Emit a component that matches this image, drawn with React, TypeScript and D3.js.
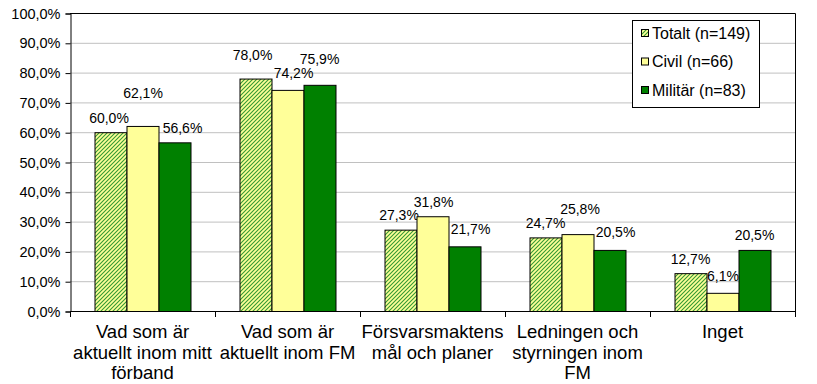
import { useEffect, useRef } from "react";
import * as d3 from "d3";

const categories = [
  ["Vad som är", "aktuellt inom mitt", "förband"],
  ["Vad som är", "aktuellt inom FM"],
  ["Försvarsmaktens", "mål och planer"],
  ["Ledningen och", "styrningen inom", "FM"],
  ["Inget"],
];
const seriesNames = ["Totalt (n=149)", "Civil (n=66)", "Militär (n=83)"];
const totalt = [60.0, 78.0, 27.3, 24.7, 12.7];
const civil = [62.1, 74.2, 31.8, 25.8, 6.1];
const militar = [56.6, 75.9, 21.7, 20.5, 20.5];
const yTicks = [0, 10, 20, 30, 40, 50, 60, 70, 80, 90, 100];

// label nudges (Excel moved some labels around), per series then category
const labelDx = [
  [-1.5, -3, -1.5, 0, 0],
  [0.5, 6, 1, 2.5, 0.5],
  [8, 0, 6, 6, 0],
];
const labelDy = [
  [0, -9, 0, 0, 0],
  [-18, -2, 0, -11, -2],
  [0, -11, -3, -3, 0],
];

const FONT = "Liberation Sans, Arial, sans-serif";

export default function App() {
  const ref = useRef<SVGSVGElement>(null);

  useEffect(() => {
    const svg = d3.select(ref.current);
    svg.selectAll("*").remove();

    const left = 70, right = 795, top = 13, bottom = 311;
    const values = [totalt, civil, militar];
    const fills = ["url(#hatch)", "#FFFF99", "#008000"];

    const x = d3.scaleBand().domain(d3.range(categories.length).map(String)).range([left, right]);
    const xs = d3.scaleBand().domain(["0", "1", "2"]).range([24.5, 120.5]);
    const y = d3.scaleLinear().domain([0, 100]).range([bottom, top]);

    const defs = svg.append("defs");
    const pat = defs.append("pattern")
      .attr("id", "hatch")
      .attr("patternUnits", "userSpaceOnUse")
      .attr("width", 4).attr("height", 4);
    pat.append("rect").attr("width", 4).attr("height", 4).attr("fill", "#FFFF99");
    pat.append("path").attr("d", "M-1,1 l2,-2 M0,4 l4,-4 M3,5 l2,-2")
      .attr("stroke", "#339933").attr("stroke-width", 1.1);

    // gridlines
    svg.append("g").selectAll("line").data(yTicks.slice(1, -1)).join("line")
      .attr("x1", left).attr("x2", right)
      .attr("y1", d => y(d) + 0.5).attr("y2", d => y(d) + 0.5)
      .attr("stroke", "#c0c0c0");

    // plot border (top/right)
    svg.append("path")
      .attr("d", `M${left},${top + 0.5}H${right + 0.5}V${bottom}`)
      .attr("fill", "none").attr("stroke", "#000");

    // y axis
    const yAxis = svg.append("g")
      .attr("transform", `translate(${left + 0.5},0.5)`)
      .call(d3.axisLeft(y).tickValues(yTicks).tickSize(5).tickPadding(5)
        .tickFormat(d => d3.format(".1f")(d as number).replace(".", ",") + "%"));
    yAxis.select(".domain").attr("stroke", "#000");
    yAxis.selectAll("text").attr("font-family", FONT)
      .attr("font-size", 14.5).attr("fill", "#000");

    // bars
    values.forEach((vals, s) => {
      svg.append("g").selectAll("rect").data(vals).join("rect")
        .attr("x", (d, i) => x(String(i))! + xs(String(s))! + 0.5)
        .attr("y", d => y(d) + 0.5)
        .attr("width", xs.bandwidth())
        .attr("height", d => bottom - y(d))
        .attr("fill", fills[s])
        .attr("stroke", "#000").attr("stroke-width", 1);

      svg.append("g").selectAll("text").data(vals).join("text")
        .attr("x", (d, i) => x(String(i))! + xs(String(s))! + xs.bandwidth() / 2 + labelDx[s][i])
        .attr("y", (d, i) => y(d) - 9.5 + labelDy[s][i])
        .attr("text-anchor", "middle")
        .attr("font-family", FONT)
        .attr("font-size", 14)
        .text(d => d3.format(".1f")(d).replace(".", ",") + "%");
    });

    // x axis
    svg.append("line")
      .attr("x1", left).attr("x2", right + 1)
      .attr("y1", bottom + 0.5).attr("y2", bottom + 0.5)
      .attr("stroke", "#000");
    svg.append("g").selectAll("line").data(d3.range(categories.length + 1)).join("line")
      .attr("x1", i => left + i * x.bandwidth() + 0.5).attr("x2", i => left + i * x.bandwidth() + 0.5)
      .attr("y1", bottom).attr("y2", bottom + 6)
      .attr("stroke", "#000");

    const catLabels = svg.append("g").selectAll("text").data(categories).join("text")
      .attr("text-anchor", "middle")
      .attr("font-family", FONT)
      .attr("font-size", 18.5)
      .attr("fill", "#000");
    catLabels.each(function (lines, i) {
      d3.select(this).selectAll("tspan").data(lines).join("tspan")
        .attr("x", x(String(i))! + x.bandwidth() / 2)
        .attr("y", (d, j) => 338 + j * 20.7)
        .text(d => d);
    });

    // legend
    const lg = svg.append("g");
    lg.append("rect").attr("x", 632.5).attr("y", 20.5).attr("width", 127).attr("height", 87)
      .attr("fill", "#fff").attr("stroke", "#000");
    seriesNames.forEach((name, s) => {
      const cy = 33 + s * 28.5;
      lg.append("rect").attr("x", 641.5).attr("y", cy - 3.5).attr("width", 7).attr("height", 7)
        .attr("fill", fills[s]).attr("stroke", "#000");
      lg.append("text").attr("x", 652).attr("y", cy + 5.5)
        .attr("font-family", FONT)
        .attr("font-size", 16)
        .text(name);
    });
  }, []);

  return (
    <svg ref={ref} width={817} height={384}
      style={{ position: "absolute", left: 0, top: 0, background: "#fff" }} />
  );
}
